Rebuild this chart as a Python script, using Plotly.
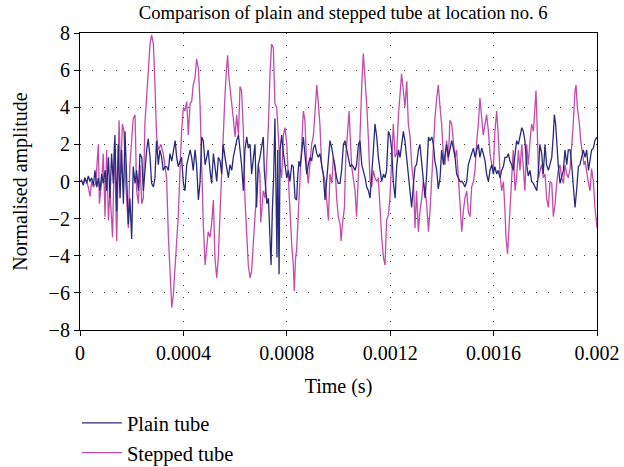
import plotly.graph_objects as go

# Normalised pressure amplitude at location no. 6, time in microseconds
stepped_t_us = [4, 13, 19, 26, 32, 39, 45, 52, 61, 71, 75, 84, 90, 97, 103, 110, 116, 126, 133, 142,
                151, 157, 164, 170, 177, 187, 193, 200, 206, 213, 219, 226, 232, 239, 245, 251, 258, 264, 271, 277,
                284, 290, 296, 303, 313, 322, 329, 335, 342, 348, 355, 361, 368, 374, 380, 387, 393, 400, 406, 413,
                419, 426, 432, 438, 445, 451, 458, 464, 471, 477, 484, 490, 496, 503, 509, 516, 522, 529, 535, 542,
                548, 554, 561, 567, 571, 576, 587, 593, 600, 606, 613, 619, 625, 632, 638, 645, 651, 658, 664, 671,
                677, 683, 690, 696, 699, 703, 709, 716, 722, 729, 735, 741, 748, 754, 761, 767, 774, 780, 787, 793,
                800, 806, 812, 819, 825, 829, 834, 838, 845, 851, 858, 864, 870, 877, 883, 890, 896, 903, 909, 916,
                922, 928, 935, 941, 948, 954, 961, 967, 974, 980, 986, 993, 999, 1006, 1010, 1015, 1023, 1028, 1034, 1041,
                1045, 1051, 1057, 1064, 1070, 1077, 1083, 1090, 1096, 1103, 1109, 1116, 1122, 1128, 1135, 1141, 1148, 1154, 1161, 1167,
                1174, 1180, 1186, 1193, 1199, 1206, 1212, 1219, 1225, 1232, 1238, 1244, 1251, 1257, 1264, 1270, 1277, 1283, 1290, 1296,
                1302, 1309, 1315, 1322, 1328, 1335, 1341, 1348, 1354, 1361, 1367, 1373, 1380, 1386, 1394, 1399, 1406, 1412, 1418, 1425,
                1431, 1438, 1444, 1451, 1457, 1464, 1470, 1477, 1483, 1489, 1496, 1502, 1509, 1515, 1522, 1528, 1535, 1541, 1547, 1554,
                1560, 1567, 1573, 1580, 1586, 1593, 1599, 1605, 1612, 1618, 1625, 1631, 1638, 1644, 1648, 1654, 1660, 1663, 1670, 1676,
                1683, 1689, 1696, 1702, 1709, 1715, 1721, 1728, 1734, 1741, 1747, 1754, 1760, 1764, 1769, 1774, 1780, 1786, 1792, 1799,
                1805, 1812, 1818, 1825, 1831, 1838, 1844, 1850, 1857, 1863, 1870, 1876, 1883, 1889, 1896, 1902, 1908, 1915, 1919, 1924,
                1932, 1937, 1943, 1950, 1954, 1960, 1967, 1973, 1979, 1986, 1992, 2000]
stepped_amp = [0.1, -0.1, 0.2, 0.0, -0.3, -0.8, 0.0, -0.3, -0.1, 2.0, -1.2, 0.0, 1.5, -1.9, 1.7, -2.1, -0.5, -3.0, 2.1, -3.2,
               3.3, 0.4, 3.1, 2.7, -0.1, -2.5, 0.9, 2.5, 3.4, 3.6, -0.5, -1.2, 0.9, -1.2, -0.9, 3.1, 4.7, 5.8, 7.4, 7.9,
               7.4, 5.2, 2.5, 1.7, 2.0, 1.5, 0.9, 0.2, -3.0, -4.8, -6.8, -6.1, -4.5, -3.0, -1.9, 0.6, 2.7, 4.0, 3.8, 4.3,
               2.5, 4.2, 4.3, 5.2, 5.6, 6.6, 6.1, 4.3, 0.6, -2.3, -4.5, -3.4, -2.7, -3.0, -2.3, -1.0, -4.1, -5.2, -4.1, -1.6,
               0.6, 2.2, 4.7, 6.1, 6.8, 5.6, 4.3, 3.4, 2.4, 3.6, 2.5, 5.1, 4.9, 2.7, -0.9, -2.7, -4.5, -5.2, -4.8, -3.2,
               -1.9, -0.1, 0.9, 0.4, -2.2, -1.6, -0.5, -0.9, 0.9, 3.1, 5.8, 7.4, 7.2, 4.2, 4.0, 2.2, 0.8, 0.2, 2.5, 2.9,
               2.0, 0.2, -1.6, -3.4, -4.5, -5.9, -4.1, -3.7, -1.6, 0.4, 2.2, 3.8, 3.3, 0.8, -0.1, 1.3, 2.0, 2.5, 4.0, 5.2,
               4.2, 3.1, 0.8, 0.4, 0.0, -0.9, -2.1, 0.4, -0.1, 1.3, 0.9, -0.9, -1.9, -2.3, -3.2, -2.3, -1.4, 1.3, 2.4, 3.8,
               2.5, 0.8, 0.2, -0.5, -1.9, 0.0, 2.4, 5.2, 6.9, 5.4, 4.2, 2.2, 0.0, -0.3, 0.6, 0.2, 0.0, 0.2, -1.6, -3.0,
               -4.1, -4.5, -2.1, -1.8, -0.9, 1.7, 3.1, 1.3, 1.5, 3.6, 4.9, 5.8, 4.9, 4.0, 5.4, 3.1, 2.4, 0.9, 0.0, -2.5,
               -0.5, -2.7, -1.6, -0.9, 0.0, -0.5, -1.2, -2.7, -1.6, 0.4, 1.7, 3.4, 4.5, 5.2, 3.8, 3.1, 1.3, 0.9, 2.2, 1.1,
               3.3, 3.1, 2.2, 1.3, 1.7, -0.1, -1.6, -2.7, -1.6, -0.9, -0.5, -1.6, -1.9, -0.3, 0.0, 0.6, 2.2, 3.1, 4.5, 3.6,
               2.5, 3.1, 3.6, 2.7, 1.5, 0.9, 0.6, 2.7, 3.8, 2.5, 0.4, -0.5, 0.0, -1.6, -3.0, -3.9, -2.7, -1.6, 0.2, 1.7,
               -0.5, 0.2, 1.7, 0.6, 2.0, 0.9, -0.5, 2.0, 0.9, 2.2, 3.1, 2.7, 4.5, 4.9, 2.7, 0.2, 0.6, 0.9, 0.2, 0.4,
               -0.9, -1.4, 0.0, -0.1, -1.9, -1.2, -0.1, 0.6, 0.9, 0.2, -0.1, 0.9, 0.4, 0.2, 0.7, 1.7, 3.1, 4.9, 5.2, 4.0,
               3.1, 2.2, 1.5, 0.9, 1.1, 0.4, -0.1, -0.5, 0.7, 0.0, -1.4, -2.5]

plain_t_us = [4, 13, 19, 26, 32, 39, 45, 52, 58, 65, 71, 77, 84, 90, 97, 103, 110, 116, 122, 129,
              135, 142, 148, 155, 161, 168, 174, 180, 187, 193, 200, 206, 213, 219, 226, 232, 239, 245, 251, 258,
              264, 271, 277, 284, 290, 296, 303, 309, 316, 322, 329, 335, 342, 348, 355, 361, 368, 374, 380, 387,
              393, 400, 406, 413, 419, 426, 432, 438, 445, 451, 458, 464, 471, 477, 484, 490, 496, 503, 509, 516,
              522, 529, 535, 542, 548, 554, 561, 567, 574, 580, 587, 593, 600, 606, 613, 619, 625, 632, 638, 645,
              651, 658, 664, 671, 677, 683, 690, 696, 703, 709, 713, 718, 723, 729, 734, 739, 744, 749, 754, 758,
              762, 765, 767, 770, 774, 780, 787, 793, 800, 806, 812, 819, 825, 832, 838, 842, 847, 852, 858, 864,
              870, 877, 883, 890, 896, 903, 909, 916, 922, 928, 935, 941, 948, 954, 961, 967, 974, 980, 986, 993,
              999, 1006, 1012, 1019, 1025, 1032, 1038, 1045, 1051, 1057, 1064, 1070, 1077, 1083, 1090, 1096, 1103, 1109, 1116, 1122,
              1128, 1135, 1141, 1148, 1154, 1161, 1167, 1174, 1180, 1186, 1193, 1199, 1206, 1212, 1219, 1225, 1232, 1238, 1244, 1251,
              1257, 1264, 1270, 1277, 1283, 1290, 1296, 1302, 1309, 1315, 1322, 1328, 1335, 1341, 1348, 1354, 1361, 1367, 1373, 1380,
              1386, 1393, 1399, 1406, 1412, 1418, 1425, 1431, 1438, 1444, 1451, 1457, 1464, 1470, 1477, 1483, 1489, 1496, 1502, 1509,
              1515, 1522, 1528, 1535, 1541, 1547, 1554, 1560, 1567, 1573, 1580, 1586, 1593, 1599, 1605, 1612, 1618, 1625, 1631, 1638,
              1644, 1651, 1657, 1663, 1670, 1676, 1683, 1689, 1696, 1702, 1709, 1715, 1721, 1728, 1734, 1741, 1747, 1754, 1760, 1767,
              1773, 1779, 1786, 1792, 1799, 1805, 1812, 1818, 1825, 1831, 1835, 1840, 1844, 1850, 1857, 1863, 1870, 1876, 1883, 1889,
              1896, 1902, 1908, 1915, 1921, 1928, 1934, 1941, 1947, 1954, 1960, 1967, 1973, 1979, 1986, 1992, 1999]
plain_amp = [0.1, -0.2, 0.2, -0.1, 0.3, 0.0, 0.2, -0.2, 0.6, -0.3, 0.2, -0.5, 0.4, -0.1, 0.6, -0.5, 1.3, -0.9, 1.5, -0.1,
             2.5, -1.6, 2.0, -0.9, 1.7, -1.2, 2.7, -0.1, -2.3, -0.9, -3.1, 0.8, -0.1, 0.6, -0.5, 1.5, 1.3, -0.5, 0.8, 1.7,
             2.3, 1.3, -0.1, -0.3, 0.2, 2.2, 0.9, 1.7, 1.3, 0.6, 0.8, 0.8, 0.6, 1.5, 1.1, 1.7, 2.2, 1.3, 0.8, 1.1,
             1.3, -0.1, -0.5, 0.9, 1.3, 1.7, 1.3, 0.6, 1.7, 0.9, -1.0, -0.1, 2.4, 2.2, 0.9, 1.3, 1.7, 0.6, -0.1, 1.5,
             0.9, 0.0, 1.3, 1.1, 0.4, 2.0, 1.3, 0.8, 0.2, 0.9, 0.6, 1.3, 1.8, 2.2, 2.5, 1.8, 0.9, -0.5, 1.7, 2.4,
             1.8, 2.0, 0.4, 1.3, 2.0, -1.4, 0.9, 1.3, 2.0, 2.4, 0.6, -0.5, -1.2, -0.9, -2.3, -4.5, -1.6, 0.2, 3.4, -0.9,
             -4.1, 1.7, -1.6, -5.0, 1.7, 2.5, 1.5, 0.9, 0.2, 0.6, 0.0, 0.9, 0.8, -0.9, -1.0, 0.2, 1.1, 0.8, 1.7, 2.4,
             1.5, 0.4, 0.9, 1.3, 1.1, 1.8, 2.0, 1.5, 1.3, 1.5, 0.9, 0.4, -1.0, -0.1, 1.3, 2.2, 1.8, 1.3, 0.6, 0.2,
             -0.1, -0.1, 0.6, 2.0, 2.2, 1.7, 1.3, 0.8, 0.9, 0.8, 0.6, 0.9, 2.0, 2.2, 0.9, 0.6, 0.2, -0.3, -0.5, -0.9,
             0.6, 1.7, 3.1, 2.4, 1.3, 0.6, 0.0, 0.4, 0.2, 0.6, 2.7, 2.5, 1.7, 0.0, -0.9, 0.8, 1.7, 1.3, 2.0, 2.7,
             2.2, 1.3, 0.4, -0.5, -1.4, -0.1, 0.8, 0.9, 1.7, 2.0, 0.9, 0.0, -0.9, 0.4, 2.4, 2.2, 2.4, 2.0, 1.1, 0.6,
             -0.4, 0.2, 1.7, 0.9, 1.5, 2.0, 1.3, 1.7, 2.2, 1.8, 1.3, 0.4, 0.2, 0.0, 0.0, -0.1, -0.3, 0.0, 0.9, 1.3,
             1.5, 1.8, 1.3, 1.7, 2.0, 1.3, 1.8, 1.5, 1.1, 0.4, 0.0, 0.6, 0.9, 0.4, 0.8, 0.4, 0.6, 0.2, 0.6, 0.8,
             1.3, 1.3, 1.5, 1.1, 0.9, 0.6, 1.7, 2.2, 2.0, 2.5, 2.9, 2.7, 2.2, 0.9, 0.3, 0.6, 0.0, -0.1, -0.3, -0.5,
             0.4, 2.0, 1.5, 0.4, 2.0, 0.9, 0.6, 0.9, 1.3, 2.5, 3.6, 3.1, 2.0, 0.9, -0.1, 0.2, 0.6, 1.7, 0.9, 1.7,
             1.7, 0.9, -0.1, -1.4, -0.5, 0.8, 0.9, 1.3, 1.7, 1.3, 1.7, 0.6, 1.3, 1.7, 1.8, 2.2, 2.4]

x_tick_vals = [0, 0.0004, 0.0008, 0.0012, 0.0016, 0.002]
x_tick_text = ["0", "0.0004", "0.0008", "0.0012", "0.0016", "0.002"]
y_tick_vals = [-8, -6, -4, -2, 0, 2, 4, 6, 8]

NAVY = "#2a2a7c"
MAGENTA = "#c24cab"
FONT = "Liberation Serif"

fig = go.Figure()
fig.add_trace(go.Scatter(
    x=[t / 1e6 for t in stepped_t_us], y=stepped_amp, mode="lines",
    name="Stepped tube", line=dict(color=MAGENTA, width=1.3), legendrank=2,
))
fig.add_trace(go.Scatter(
    x=[t / 1e6 for t in plain_t_us], y=plain_amp, mode="lines",
    name="Plain tube", line=dict(color=NAVY, width=1.3), legendrank=1,
))

axis_common = dict(
    showline=True, linecolor="black", linewidth=1.2, mirror=True,
    ticks="outside", ticklen=5, tickcolor="black", tickwidth=1,
    showgrid=True, gridcolor="#333333", gridwidth=1, griddash="1px,11px",
    zeroline=False, automargin=False,
    tickfont=dict(size=20, color="black", family=FONT),
)

fig.update_xaxes(
    range=[0, 0.002], tickvals=x_tick_vals, ticktext=x_tick_text,
    title=dict(text="Time (s)", font=dict(size=20, color="black", family=FONT)),
    **axis_common,
)
fig.update_yaxes(
    range=[-8, 8], tickvals=y_tick_vals,
    title=dict(text="Normalised amplitude", font=dict(size=20, color="black", family=FONT)),
    **axis_common,
)

fig.update_layout(
    width=624, height=467,
    margin=dict(l=80, r=27, t=33, b=137, autoexpand=False),
    paper_bgcolor="white", plot_bgcolor="white",
    font=dict(family=FONT, color="black"),
    title=dict(text="Comparison of plain and stepped tube at location no. 6",
               font=dict(size=18.7, color="black", family=FONT),
               x=0.55, xanchor="center", xref="container",
               y=0.974, yanchor="middle", yref="container"),
    showlegend=True,
    legend=dict(orientation="v", x=-0.006, xanchor="left", y=-0.246, yanchor="top",
                font=dict(size=20.5, color="black", family=FONT),
                bgcolor="rgba(0,0,0,0)", tracegroupgap=0, itemwidth=40),
)

fig.write_html("out.html")
